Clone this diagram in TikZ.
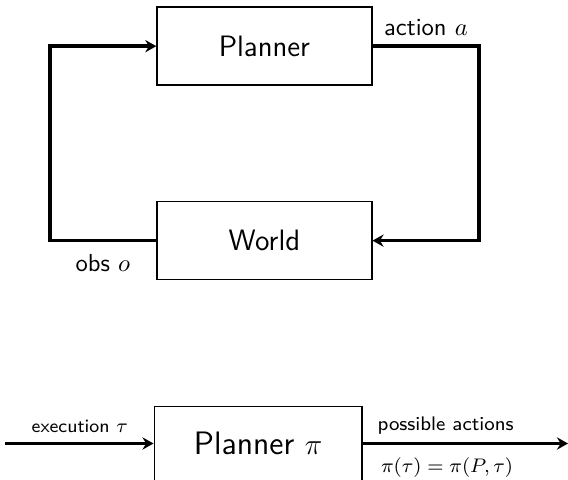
\documentclass[tikz,border=0pt]{standalone}
\usepackage{amsmath}
\usepackage{tikz}
\usetikzlibrary{positioning,arrows.meta}
\renewcommand{\familydefault}{\sfdefault}

\begin{document}
\begin{tikzpicture}[
        box/.style={draw,semithick,minimum width=3.07cm,minimum height=1.115cm,font=\large},
        flow/.style={line width=1.4pt,-{Stealth[length=4.5pt,width=5pt,inset=1.5pt]}}
    ]
    \path[use as bounding box,clip] (0,0) rectangle (8.12,6.86);
    %
    % closed loop
    \node[box] (Planner) at (3.78,6.20) {Planner};
    \node[box] (World) at (3.78,3.42) {World};
    \coordinate (actCorner) at (6.85,6.20);
    \coordinate (obsCorner) at (0.715,3.42);
    \draw[flow] (Planner.east) -- (actCorner) |- (World.east);
    \draw[flow] (World.west) -- (obsCorner) |- (Planner.west);
    \node (Action) at (6.09,6.46) {action $a$};
    \node (Obs) at (1.47,3.10) {obs $o$};
    %
    % planner as a function
    \node[box,minimum width=2.97cm,minimum height=1.06cm,font=\fontsize{13.2}{15}\selectfont] (Policy) at (3.69,0.52) {Planner $\pi$};
    \coordinate (In) at (0.07,0.52);
    \coordinate (Out) at (8.12,0.52);
    \draw[flow] (In) -- (Policy.west);
    \draw[flow] (Policy.east) -- (Out);
    \node[font=\fontsize{7.6}{9}\selectfont] (Exec) at (1.14,0.77) {execution $\tau$};
    \node[font=\footnotesize] (Possible) at (6.37,0.77) {possible actions};
    \node[font=\footnotesize] (Formula) at (6.39,0.17) {$\pi(\tau)=\pi(P,\tau)$};
    %
\end{tikzpicture}
\end{document}
